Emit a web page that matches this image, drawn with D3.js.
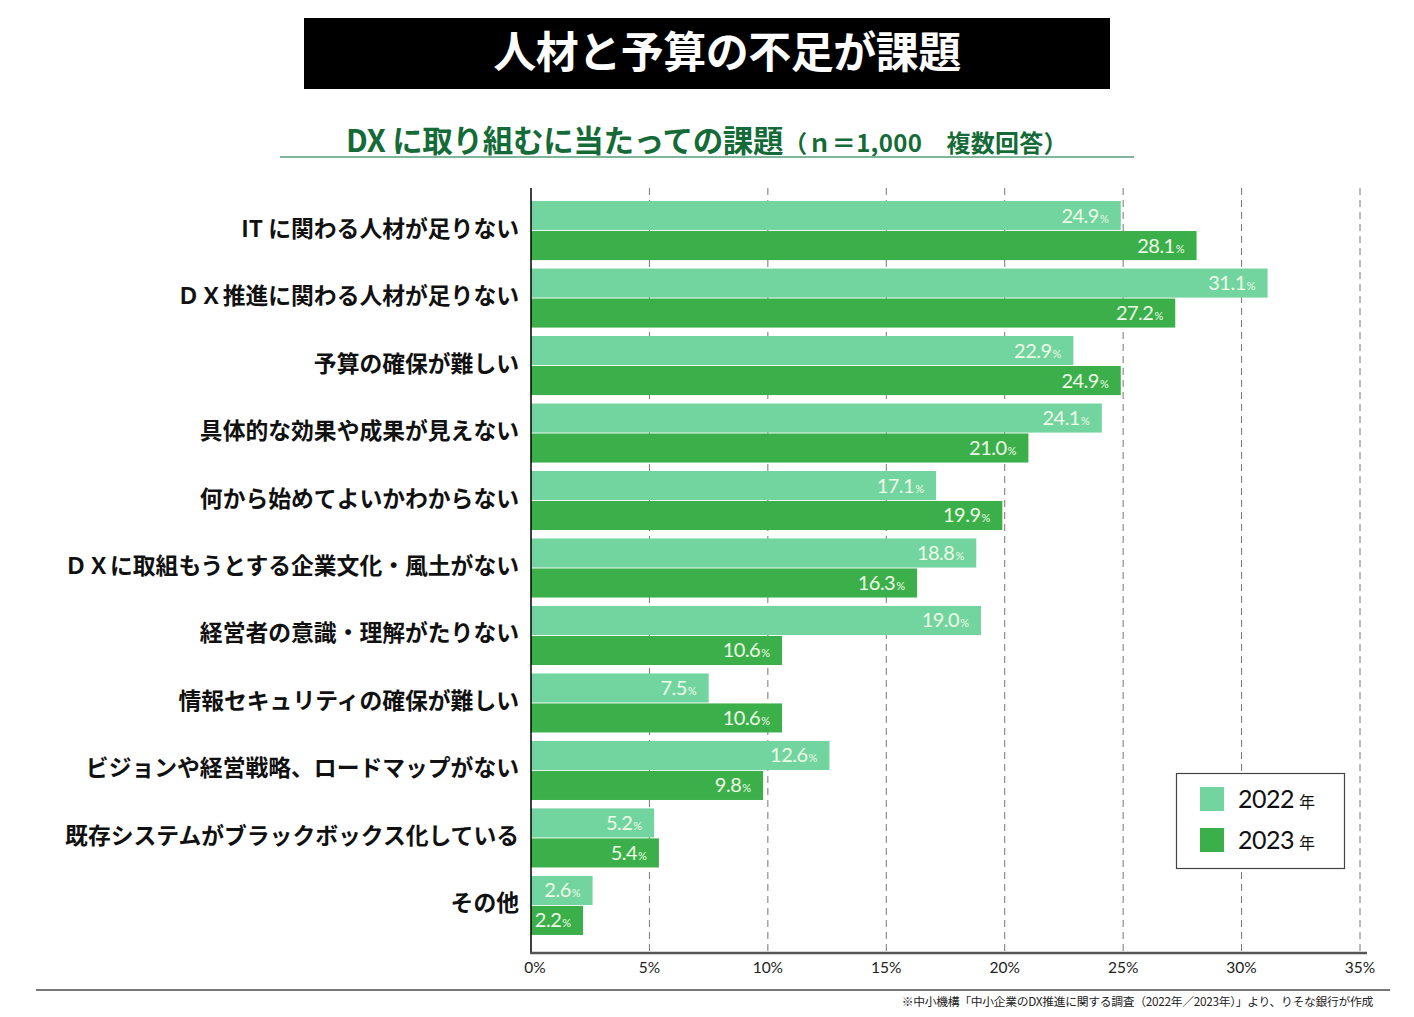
<!DOCTYPE html>
<html><head><meta charset="utf-8">
<script src="https://cdn.jsdelivr.net/npm/d3@7"></script>
<style>body{margin:0;background:#fff;} svg{display:block;}</style>
</head><body>
<svg id="c" width="1414" height="1017"></svg>
<script>
const categories = ["IT に関わる人材が足りない","ＤＸ推進に関わる人材が足りない","予算の確保が難しい","具体的な効果や成果が見えない","何から始めてよいかわからない","ＤＸに取組もうとする企業文化・風土がない","経営者の意識・理解がたりない","情報セキュリティの確保が難しい","ビジョンや経営戦略、ロードマップがない","既存システムがブラックボックス化している","その他"];
const series = ["2022","2023"];
const values2022 = [24.9,31.1,22.9,24.1,17.1,18.8,19.0,7.5,12.6,5.2,2.6];
const values2023 = [28.1,27.2,24.9,21.0,19.9,16.3,10.6,10.6,9.8,5.4,2.2];
const xTicks = [0,5,10,15,20,25,30,35];
const colors = {"2022":"#72d49e","2023":"#3bb04a"};

const svg = d3.select("#c");
const JP = "'Noto Sans CJK JP','Noto Sans',sans-serif";
const NUM = "Lato,'Open Sans',sans-serif";

// Title
svg.append("rect").attr("x",304).attr("y",18).attr("width",806).attr("height",71).attr("fill","#000");
svg.append("text").attr("x",727).attr("y",68).attr("text-anchor","middle").attr("fill","#fff")
  .attr("font-family",JP).attr("font-weight",700).attr("font-size",43).attr("letter-spacing",-0.5).text("人材と予算の不足が課題");

// Subtitle
const st = svg.append("text").attr("x",707).attr("y",152).attr("text-anchor","middle").attr("fill","#146b37")
  .attr("font-family",JP).attr("font-weight",700);
st.append("tspan").attr("font-size",30.5).attr("letter-spacing",-0.3).text("DX に取り組むに当たっての課題");
st.append("tspan").attr("font-size",24).attr("letter-spacing",0.3).text("（ｎ＝1,000　複数回答）");
svg.append("line").attr("x1",280).attr("x2",1134).attr("y1",157).attr("y2",157).attr("stroke","#7fb59a").attr("stroke-width",2);

// Scales
const x = d3.scaleLinear().domain([0,35]).range([531,1360]);
const y0 = d3.scaleBand().domain(categories).range([197,939]).paddingInner(0.125).paddingOuter(0.06);
const y1 = d3.scaleBand().domain(series).range([0,y0.bandwidth()]).paddingInner(0.03);

// grid
svg.append("g").selectAll("line").data(xTicks.filter(d=>d>0)).join("line")
  .attr("x1",d=>x(d)).attr("x2",d=>x(d)).attr("y1",188).attr("y2",953)
  .attr("stroke","#777").attr("stroke-width",1).attr("stroke-dasharray","7,5");

// bars
const data = categories.map((c,i)=>({c, vals:[{s:"2022",v:values2022[i]},{s:"2023",v:values2023[i]}]}));
const g = svg.append("g").selectAll("g").data(data).join("g").attr("transform",d=>`translate(0,${y0(d.c)})`);
g.selectAll("rect").data(d=>d.vals).join("rect")
  .attr("x",x(0)).attr("y",d=>y1(d.s)).attr("width",d=>x(d.v)-x(0)).attr("height",y1.bandwidth())
  .attr("fill",d=>colors[d.s]);
const vl = g.selectAll("text.v").data(d=>d.vals).join("text").attr("class","v")
  .attr("x",d=>x(d.v)-12).attr("y",d=>y1(d.s)+y1.bandwidth()/2+7).attr("text-anchor","end")
  .attr("fill","#effbe8").attr("font-family",NUM);
vl.append("tspan").attr("font-size",20).attr("letter-spacing",-0.5).text(d=>d.v.toFixed(1));
vl.append("tspan").attr("font-size",11).attr("dx",1).text("%");

// category labels
svg.append("g").selectAll("text").data(categories).join("text")
  .attr("x",519).attr("y",d=>y0(d)+y0.bandwidth()/2+6).attr("text-anchor","end")
  .attr("font-family",JP).attr("font-weight",700).attr("font-size",22.8).attr("fill","#111").text(d=>d);

// axes
svg.append("line").attr("x1",531).attr("x2",531).attr("y1",188).attr("y2",953).attr("stroke","#000").attr("stroke-width",1.5);
svg.append("line").attr("x1",530).attr("x2",1367).attr("y1",953).attr("y2",953).attr("stroke","#555").attr("stroke-width",2.5);
svg.append("g").selectAll("text").data(xTicks).join("text")
  .attr("x",d=>x(d)+(d===0?4:0)).attr("y",973).attr("text-anchor","middle")
  .attr("font-family",NUM).attr("font-size",15.5).attr("fill","#222").text(d=>d+"%");

// legend
svg.append("rect").attr("x",1176.5).attr("y",773.5).attr("width",168).attr("height",95).attr("fill","#fff").attr("stroke","#444").attr("stroke-width",1.2);
const lg = svg.append("g").selectAll("g").data(series).join("g").attr("transform",(d,i)=>`translate(1200,${787+i*41})`);
lg.append("rect").attr("width",24).attr("height",24).attr("fill",d=>colors[d]);
const lt = lg.append("text").attr("x",38).attr("y",21).attr("font-family",NUM).attr("fill","#111");
lt.append("tspan").attr("font-size",25).attr("letter-spacing",-0.5).text(d=>d);
lt.append("tspan").attr("font-size",16).attr("font-family",JP).attr("dx",5).text("年");

// footer
svg.append("line").attr("x1",36).attr("x2",1390).attr("y1",990).attr("y2",990).attr("stroke","#777").attr("stroke-width",2);
svg.append("text").attr("x",1373).attr("y",1006).attr("text-anchor","end").attr("font-family",JP)
  .attr("font-size",11.8).attr("letter-spacing",-0.3).attr("fill","#222").text("※中小機構「中小企業のDX推進に関する調査（2022年／2023年）」より、りそな銀行が作成");
</script>
</body></html>
